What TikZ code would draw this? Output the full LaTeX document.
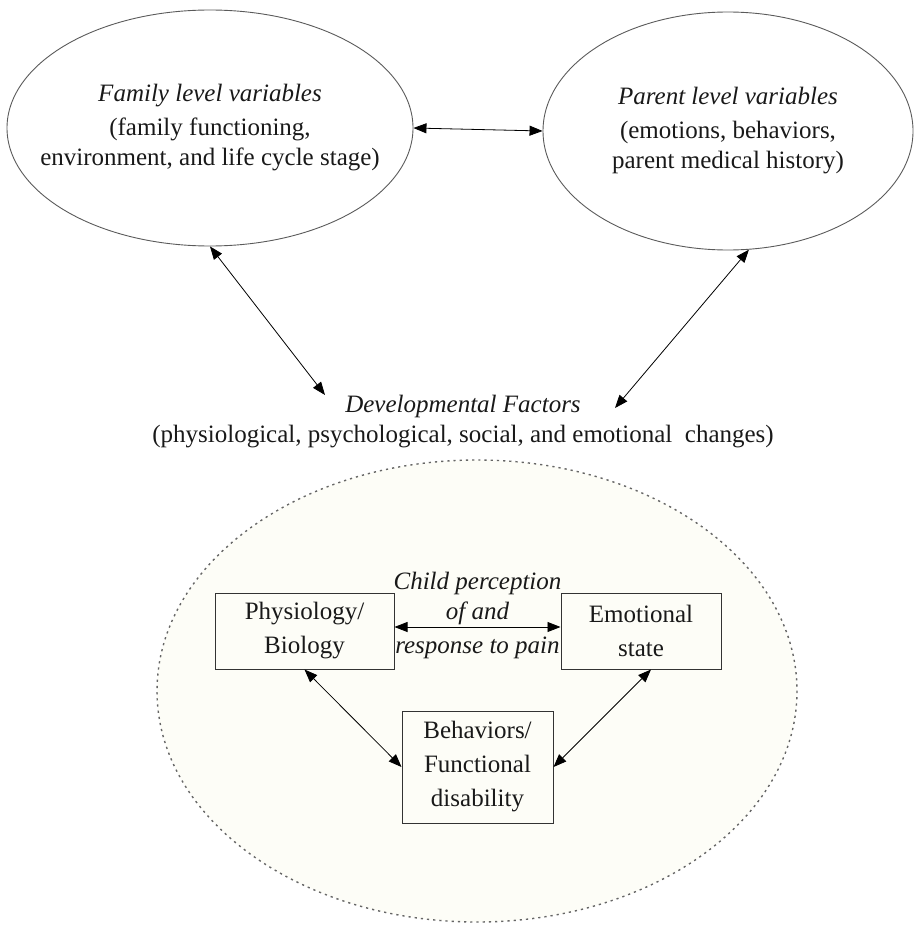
\documentclass[tikz,border=0pt]{standalone}
\usepackage{fontspec}
\setmainfont{Liberation Serif}
\usetikzlibrary{shapes.geometric,arrows.meta}
\definecolor{cream}{HTML}{FDFDF7}
\definecolor{lineg}{HTML}{5A5A5A}

\begin{document}
\begin{tikzpicture}[x=1pt,y=-1pt,
	txt/.style={font=\fontsize{25}{30}\selectfont,align=center,text=black!90},
	oval/.style={ellipse,draw=lineg,line width=0.9pt,inner sep=0pt},
	box/.style={txt,font=\fontsize{25}{34}\selectfont,draw=black!80,line width=1pt,inner sep=0pt},
	both/.style={{Triangle[length=13pt,width=10pt]}-{Triangle[length=13pt,width=10pt]},line width=0.8pt}]
	\useasboundingbox (0,0) rectangle (923,928);
	% obere Ebene: Familie und Eltern
	\node[oval,minimum width=406,minimum height=236] (family) at (210,128) {};
	\node[txt] (familytxt) at (family) {\textit{Family level variables}\\[4pt](family functioning,\\environment, and life cycle stage)};
	\node[oval,minimum width=370,minimum height=238] (parent) at (728,131) {};
	\node[txt] (parenttxt) at (parent) {\textit{Parent level variables}\\[4pt](emotions, behaviors,\\parent medical history)};
	\draw[both] (family.east) -- (parent.west);
	% Entwicklung
	\node[txt] (dev) at (463,422) {\textit{Developmental Factors}\\(physiological, psychological, social, and emotional\ \ changes)};
	\coordinate (devL) at (325,395);
	\coordinate (devR) at (615,408);
	\draw[both] (family.south) -- (devL);
	\draw[both] (parent.-80) -- (devR);
	% Kind
	\draw[fill=cream,draw=black!60,line width=1.4pt,dash pattern=on 2.2pt off 4pt] (477,691) ellipse [x radius=320,y radius=231];
	\node[box,minimum width=179,minimum height=76] (physio) at (304.5,631) {Physiology/\\Biology};
	\node[box,minimum width=160,minimum height=76] (emot) at (641,631) {Emotional\\state};
	\node[box,minimum width=151,minimum height=112] (behav) at (477.5,767) {Behaviors/\\Functional\\disability};
	\draw[both] ([yshift=4pt]physio.east) -- ([yshift=4pt]emot.west)
		node[txt,midway,above,inner sep=2pt] {\textit{Child perception}\\\textit{of and}}
		node[txt,midway,below,inner sep=10pt] {\textit{response to pain}};
	\draw[both] (physio.south) -- (behav.west);
	\draw[both] ([xshift=10pt]emot.south) -- (behav.east);
\end{tikzpicture}
\end{document}
